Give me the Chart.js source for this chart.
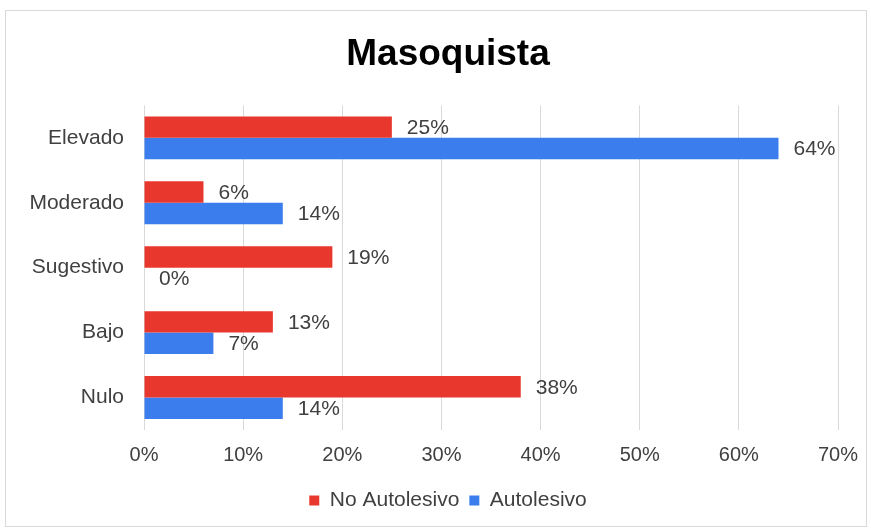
<!DOCTYPE html>
<html>
<head>
<meta charset="utf-8">
<script src="https://cdn.jsdelivr.net/npm/chart.js@4.4.0/dist/chart.umd.min.js"></script>
<style>
  body { margin: 0; background: #fff; }
  #box {
    position: absolute; left: 5px; top: 10px;
    width: 860px; height: 515px;
    border: 1px solid #d9d9d9;
  }
</style>
</head>
<body>
<div id="box"><canvas id="chart" width="860" height="515"></canvas></div>
<script>
const categories = ['Elevado', 'Moderado', 'Sugestivo', 'Bajo', 'Nulo'];
const noAutolesivo = [25, 6, 19, 13, 38];
const autolesivo = [64, 14, 0, 7, 14];
const xTicks = [0, 10, 20, 30, 40, 50, 60, 70];

const FONT = '"Liberation Sans", Arial, sans-serif';

// draw the "25%" style labels at the end of each bar
const barLabels = {
    id: 'barLabels',
    afterDatasetsDraw(chart) {
        const ctx = chart.ctx;
        ctx.save();
        ctx.font = '21px ' + FONT;
        ctx.fillStyle = '#404040';
        ctx.textBaseline = 'middle';
        ctx.textAlign = 'left';
        chart.data.datasets.forEach((ds, i) => {
            chart.getDatasetMeta(i).data.forEach((bar, j) => {
                ctx.fillText(ds.data[j] + '%', bar.x + 15, bar.y + 1);
            });
        });
        ctx.restore();
    }
};

// title and legend sit a bit right of the canvas centre in the original
const shiftBlocks = {
    id: 'shiftBlocks',
    afterLayout(chart) {
        if (chart.titleBlock) chart.titleBlock.left += 47;
        if (chart.legend) chart.legend.left += 47;
    }
};

new Chart(document.getElementById('chart'), {
    type: 'bar',
    data: {
        labels: categories,
        datasets: [
            { label: 'No Autolesivo', data: noAutolesivo, backgroundColor: '#e8382e' },
            { label: 'Autolesivo', data: autolesivo, backgroundColor: '#3b7dec' }
        ]
    },
    options: {
        indexAxis: 'y',
        responsive: false,
        animation: false,
        categoryPercentage: 0.66,
        barPercentage: 1,
        layout: { padding: { right: 23, bottom: 5 } },
        plugins: {
            title: {
                display: true,
                text: 'Masoquista',
                color: '#000',
                font: { family: FONT, size: 37, weight: 'bold' },
                padding: { top: 22, bottom: 28 }
            },
            legend: {
                position: 'bottom',
                labels: {
                    color: '#404040',
                    font: { family: FONT, size: 21 },
                    boxWidth: 10,
                    boxHeight: 10,
                    padding: 10
                }
            },
            tooltip: { enabled: false }
        },
        scales: {
            x: {
                min: 0,
                max: 70,
                afterBuildTicks: s => { s.ticks = xTicks.map(v => ({ value: v })); },
                afterFit: s => { s.height = 50; s.paddingRight = 28; },
                grid: { color: '#d9d9d9', drawTicks: false },
                border: { display: false },
                ticks: {
                    color: '#404040',
                    padding: 13,
                    maxRotation: 0,
                    font: { family: FONT, size: 20 },
                    callback: v => v + '%'
                }
            },
            y: {
                grid: { display: false, drawTicks: false },
                border: { display: false },
                afterFit: s => { s.width = 138; },
                ticks: {
                    color: '#404040',
                    padding: 20,
                    font: { family: FONT, size: 21 }
                }
            }
        }
    },
    plugins: [barLabels, shiftBlocks]
});
</script>
</body>
</html>
